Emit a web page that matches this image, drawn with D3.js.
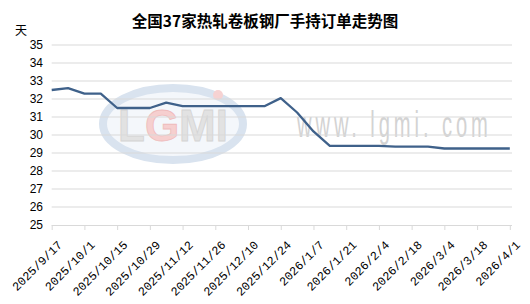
<!DOCTYPE html>
<html>
<head>
<meta charset="utf-8">
<script src="https://cdn.jsdelivr.net/npm/d3@7"></script>
<style>
  body { margin: 0; background: #fff; }
  svg { display: block; }
</style>
</head>
<body>
<script>
// weekly order-backlog days, 37 hot-rolled coil mills
const dates = [
  '2025/9/17', '2025/9/24', '2025/10/1', '2025/10/8', '2025/10/15', '2025/10/22',
  '2025/10/29', '2025/11/5', '2025/11/12', '2025/11/19', '2025/11/26', '2025/12/3',
  '2025/12/10', '2025/12/17', '2025/12/24', '2025/12/31', '2026/1/7', '2026/1/14',
  '2026/1/21', '2026/1/28', '2026/2/4', '2026/2/11', '2026/2/18', '2026/2/25',
  '2026/3/4', '2026/3/11', '2026/3/18', '2026/3/25', '2026/4/1'
];
const values = [
  32.5, 32.6, 32.3, 32.3, 31.5, 31.5,
  31.5, 31.8, 31.6, 31.6, 31.6, 31.6,
  31.6, 31.6, 32.05, 31.25, 30.2, 29.4,
  29.4, 29.4, 29.4, 29.35, 29.35, 29.35,
  29.25, 29.25, 29.25, 29.25, 29.25
];
const yTicks = [25, 26, 27, 28, 29, 30, 31, 32, 33, 34, 35];
const xTickLabels = dates.filter((d, i) => i % 2 === 0);

const width = 530;
const height = 304;

const svg = d3.select('body')
  .append('svg')
  .attr('width', width)
  .attr('height', height);

const x = d3.scalePoint().domain(dates).range([51.7, 509.8]);
const y = d3.scaleLinear().domain([25, 35]).range([225, 45]);

// watermark (faint logo + url)
const wm = svg.append('g');
wm.append('ellipse')
  .attr('cx', 173).attr('cy', 124).attr('rx', 70).attr('ry', 36)
  .attr('fill', '#f4f7fb').attr('stroke', '#d9e3ef').attr('stroke-width', 8);
const logo = wm.append('text')
  .attr('x', 173).attr('y', 141)
  .attr('text-anchor', 'middle')
  .attr('font-family', 'Liberation Sans, Arial, sans-serif')
  .attr('font-weight', 'bold')
  .attr('font-size', 44)
  .attr('fill', '#e2e2e2')
  .attr('stroke', '#d4d4d4')
  .attr('stroke-width', 0.8);
logo.append('tspan').text('L');
logo.append('tspan').attr('fill', '#f6cfcf').attr('stroke', '#efbcbc').text('G');
logo.append('tspan').text('MI');
wm.append('circle')
  .attr('cx', 218).attr('cy', 95).attr('r', 5).attr('fill', '#f6d2d2');
wm.append('text')
  .attr('x', 0).attr('y', 0)
  .attr('font-family', 'Liberation Sans, Arial, sans-serif')
  .attr('font-size', 36)
  .attr('fill', '#d3d3d3')
  .attr('transform', 'translate(297,137) scale(0.56,1)')
  .attr('letter-spacing', 7)
  .text('www. lgmi. com');

// gridlines
svg.append('g')
  .selectAll('line')
  .data(yTicks.filter(d => d !== 25))
  .join('line')
  .attr('x1', 51.7).attr('x2', 512)
  .attr('y1', d => y(d)).attr('y2', d => y(d))
  .attr('stroke', '#d9d9d9')
  .attr('stroke-width', 1);

// y axis labels
svg.append('g')
  .selectAll('text')
  .data(yTicks)
  .join('text')
  .attr('x', 43)
  .attr('y', d => y(d) + 4)
  .attr('text-anchor', 'end')
  .attr('font-family', 'Liberation Sans, Arial, sans-serif')
  .attr('font-size', 12)
  .attr('fill', '#000')
  .text(d => d);

// x axis
const xAxis = d3.axisBottom(x)
  .tickValues(xTickLabels)
  .tickSize(5)
  .tickSizeOuter(0)
  .tickPadding(3);

const gx = svg.append('g')
  .attr('transform', `translate(0,${y(25)})`)
  .call(xAxis);
gx.select('.domain')
  .attr('d', 'M51.7,0.5H512')
  .attr('stroke', '#d9d9d9');
gx.selectAll('.tick line').attr('stroke', '#d9d9d9');
gx.selectAll('.tick text')
  .attr('font-family', 'Liberation Mono, monospace')
  .attr('font-size', 12)
  .attr('fill', '#000')
  .attr('text-anchor', 'end')
  .attr('dy', 0)
  .attr('transform', 'translate(5,15) rotate(-45)');

// line
const line = d3.line()
  .x((d, i) => x(dates[i]))
  .y(d => y(d));

svg.append('path')
  .datum(values)
  .attr('d', line)
  .attr('fill', 'none')
  .attr('stroke', '#3f618a')
  .attr('stroke-width', 2.3)
  .attr('stroke-linejoin', 'round');

// title and unit
svg.append('text')
  .attr('x', 265).attr('y', 27)
  .attr('text-anchor', 'middle')
  .attr('font-family', 'Noto Sans CJK SC, sans-serif')
  .attr('font-weight', 'bold')
  .attr('font-size', 15.5)
  .text('全国37家热轧卷板钢厂手持订单走势图');

svg.append('text')
  .attr('x', 21).attr('y', 35)
  .attr('text-anchor', 'middle')
  .attr('font-family', 'Noto Sans CJK SC, sans-serif')
  .attr('font-size', 12)
  .text('天');
</script>
</body>
</html>
